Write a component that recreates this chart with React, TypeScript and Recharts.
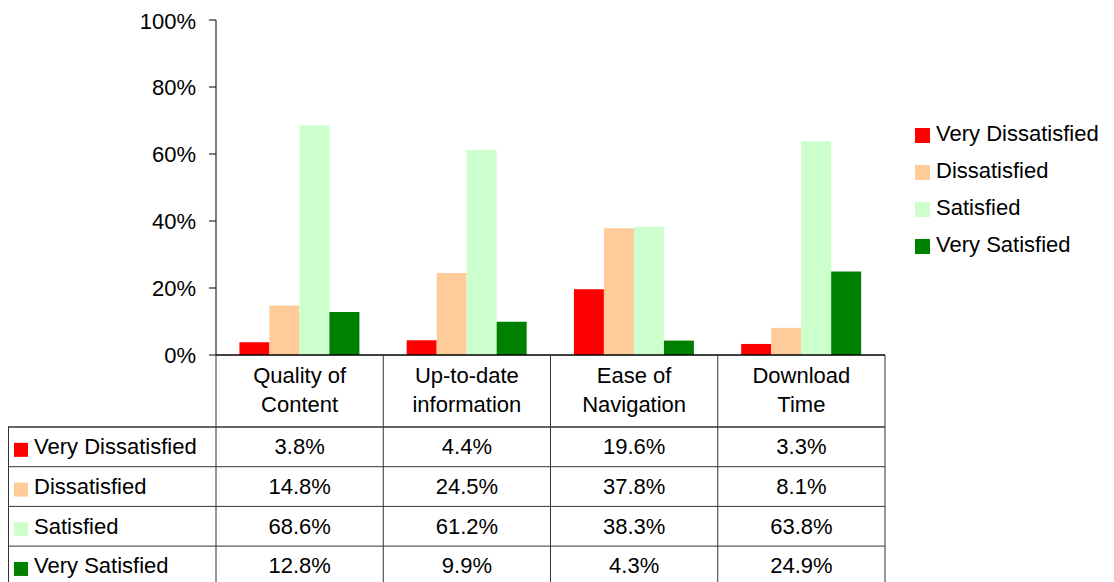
import { Bar, BarChart, Legend, XAxis, YAxis } from "recharts";

const categories = ["Quality of Content", "Up-to-date information", "Ease of Navigation", "Download Time"];
const categoryLines = [
  ["Quality of", "Content"],
  ["Up-to-date", "information"],
  ["Ease of", "Navigation"],
  ["Download", "Time"],
];
const veryDissatisfied = [3.8, 4.4, 19.6, 3.3];
const dissatisfied = [14.8, 24.5, 37.8, 8.1];
const satisfied = [68.6, 61.2, 38.3, 63.8];
const verySatisfied = [12.8, 9.9, 4.3, 24.9];
const yTicks = [0, 20, 40, 60, 80, 100];

const series = [
  { key: "vd", name: "Very Dissatisfied", values: veryDissatisfied, color: "#ff0000" },
  { key: "d", name: "Dissatisfied", values: dissatisfied, color: "#ffcc99" },
  { key: "s", name: "Satisfied", values: satisfied, color: "#ccffcc" },
  { key: "vs", name: "Very Satisfied", values: verySatisfied, color: "#008000" },
];

const data = categories.map((category, i) => {
  const row: Record<string, string | number> = { category };
  series.forEach((s) => (row[s.key] = s.values[i]));
  return row;
});

const W = 1106;
const H = 574;
const MARGIN = { top: 12, right: 229, bottom: 0, left: 0 };
const Y_W = 208;
const X_H = 227;
const PLOT_LEFT = MARGIN.left + Y_W;
const PLOT_RIGHT = W - MARGIN.right;
const COL_W = (PLOT_RIGHT - PLOT_LEFT) / categories.length;
const ROW_TOP = 72;
const ROW_H = 39.7;
const LINE = "#333";
const FONT = 22;

const TableTick = (props: any) => {
  const { x, y, payload } = props;
  const idx = categories.indexOf(payload.value);
  const half = COL_W / 2;
  const bottom = y + 240;
  return (
    <g>
      <line x1={x + half} x2={x + half} y1={y} y2={bottom} stroke={LINE} />
      {categoryLines[idx].map((t, k) => (
        <text key={k} x={x} y={y + 20 + k * 29} textAnchor="middle" dominantBaseline="central" fontSize={FONT} fill="#000">
          {t}
        </text>
      ))}
      {series.map((s, r) => (
        <text
          key={s.key}
          x={x}
          y={y + ROW_TOP + ROW_H * r + ROW_H / 2}
          textAnchor="middle"
          dominantBaseline="central"
          fontSize={FONT}
          fill="#000"
        >
          {s.values[idx].toFixed(1)}%
        </text>
      ))}
      {idx === 0 && (
        <g>
          <line x1={x - half} x2={x - half} y1={y} y2={bottom} stroke={LINE} />
          <line x1={0.5} x2={0.5} y1={y + ROW_TOP} y2={bottom} stroke={LINE} />
          {series.map((s, r) => {
            const top = y + ROW_TOP + ROW_H * r;
            return (
              <g key={s.key}>
                <line x1={0} x2={PLOT_RIGHT} y1={top} y2={top} stroke={LINE} strokeWidth={r === 0 ? 1.5 : 1} />
                <rect x={6} y={top + ROW_H / 2 - 4} width={14} height={14} fill={s.color} />
                <text x={26} y={top + ROW_H / 2} dominantBaseline="central" fontSize={FONT} fill="#000">
                  {s.name}
                </text>
              </g>
            );
          })}
        </g>
      )}
    </g>
  );
};

const renderLegend = () => (
  <div style={{ fontSize: FONT, color: "#000" }}>
    {series.map((s) => (
      <div key={s.key} style={{ display: "flex", alignItems: "center", height: 37 }}>
        <span style={{ width: 15, height: 15, background: s.color, marginRight: 6, marginTop: 4 }} />
        <span>{s.name}</span>
      </div>
    ))}
  </div>
);

export default function App() {
  return (
    <div style={{ fontFamily: "Arial, 'Liberation Sans', sans-serif", width: W, height: H }}>
      <BarChart width={W} height={H} data={data} margin={MARGIN} barCategoryGap="14%" barGap={0}>
        <YAxis
          width={Y_W}
          domain={[0, 100]}
          ticks={yTicks}
          tickFormatter={(v) => `${v}%`}
          axisLine={{ stroke: "#000" }}
          tickLine={{ stroke: "#000" }}
          tickSize={7}
          tickMargin={13}
          tick={{ fill: "#000", fontSize: FONT }}
        />
        <XAxis
          dataKey="category"
          height={X_H}
          interval={0}
          tickLine={false}
          tickSize={0}
          tickMargin={0}
          axisLine={{ stroke: "#000", strokeWidth: 1.5 }}
          tick={<TableTick />}
        />
        <Legend
          layout="horizontal"
          verticalAlign="middle"
          align="center"
          content={renderLegend}
          wrapperStyle={{ left: 907, top: 107, width: "auto" }}
        />
        {series.map((s) => (
          <Bar key={s.key} dataKey={s.key} name={s.name} fill={s.color} isAnimationActive={false} />
        ))}
      </BarChart>
    </div>
  );
}
